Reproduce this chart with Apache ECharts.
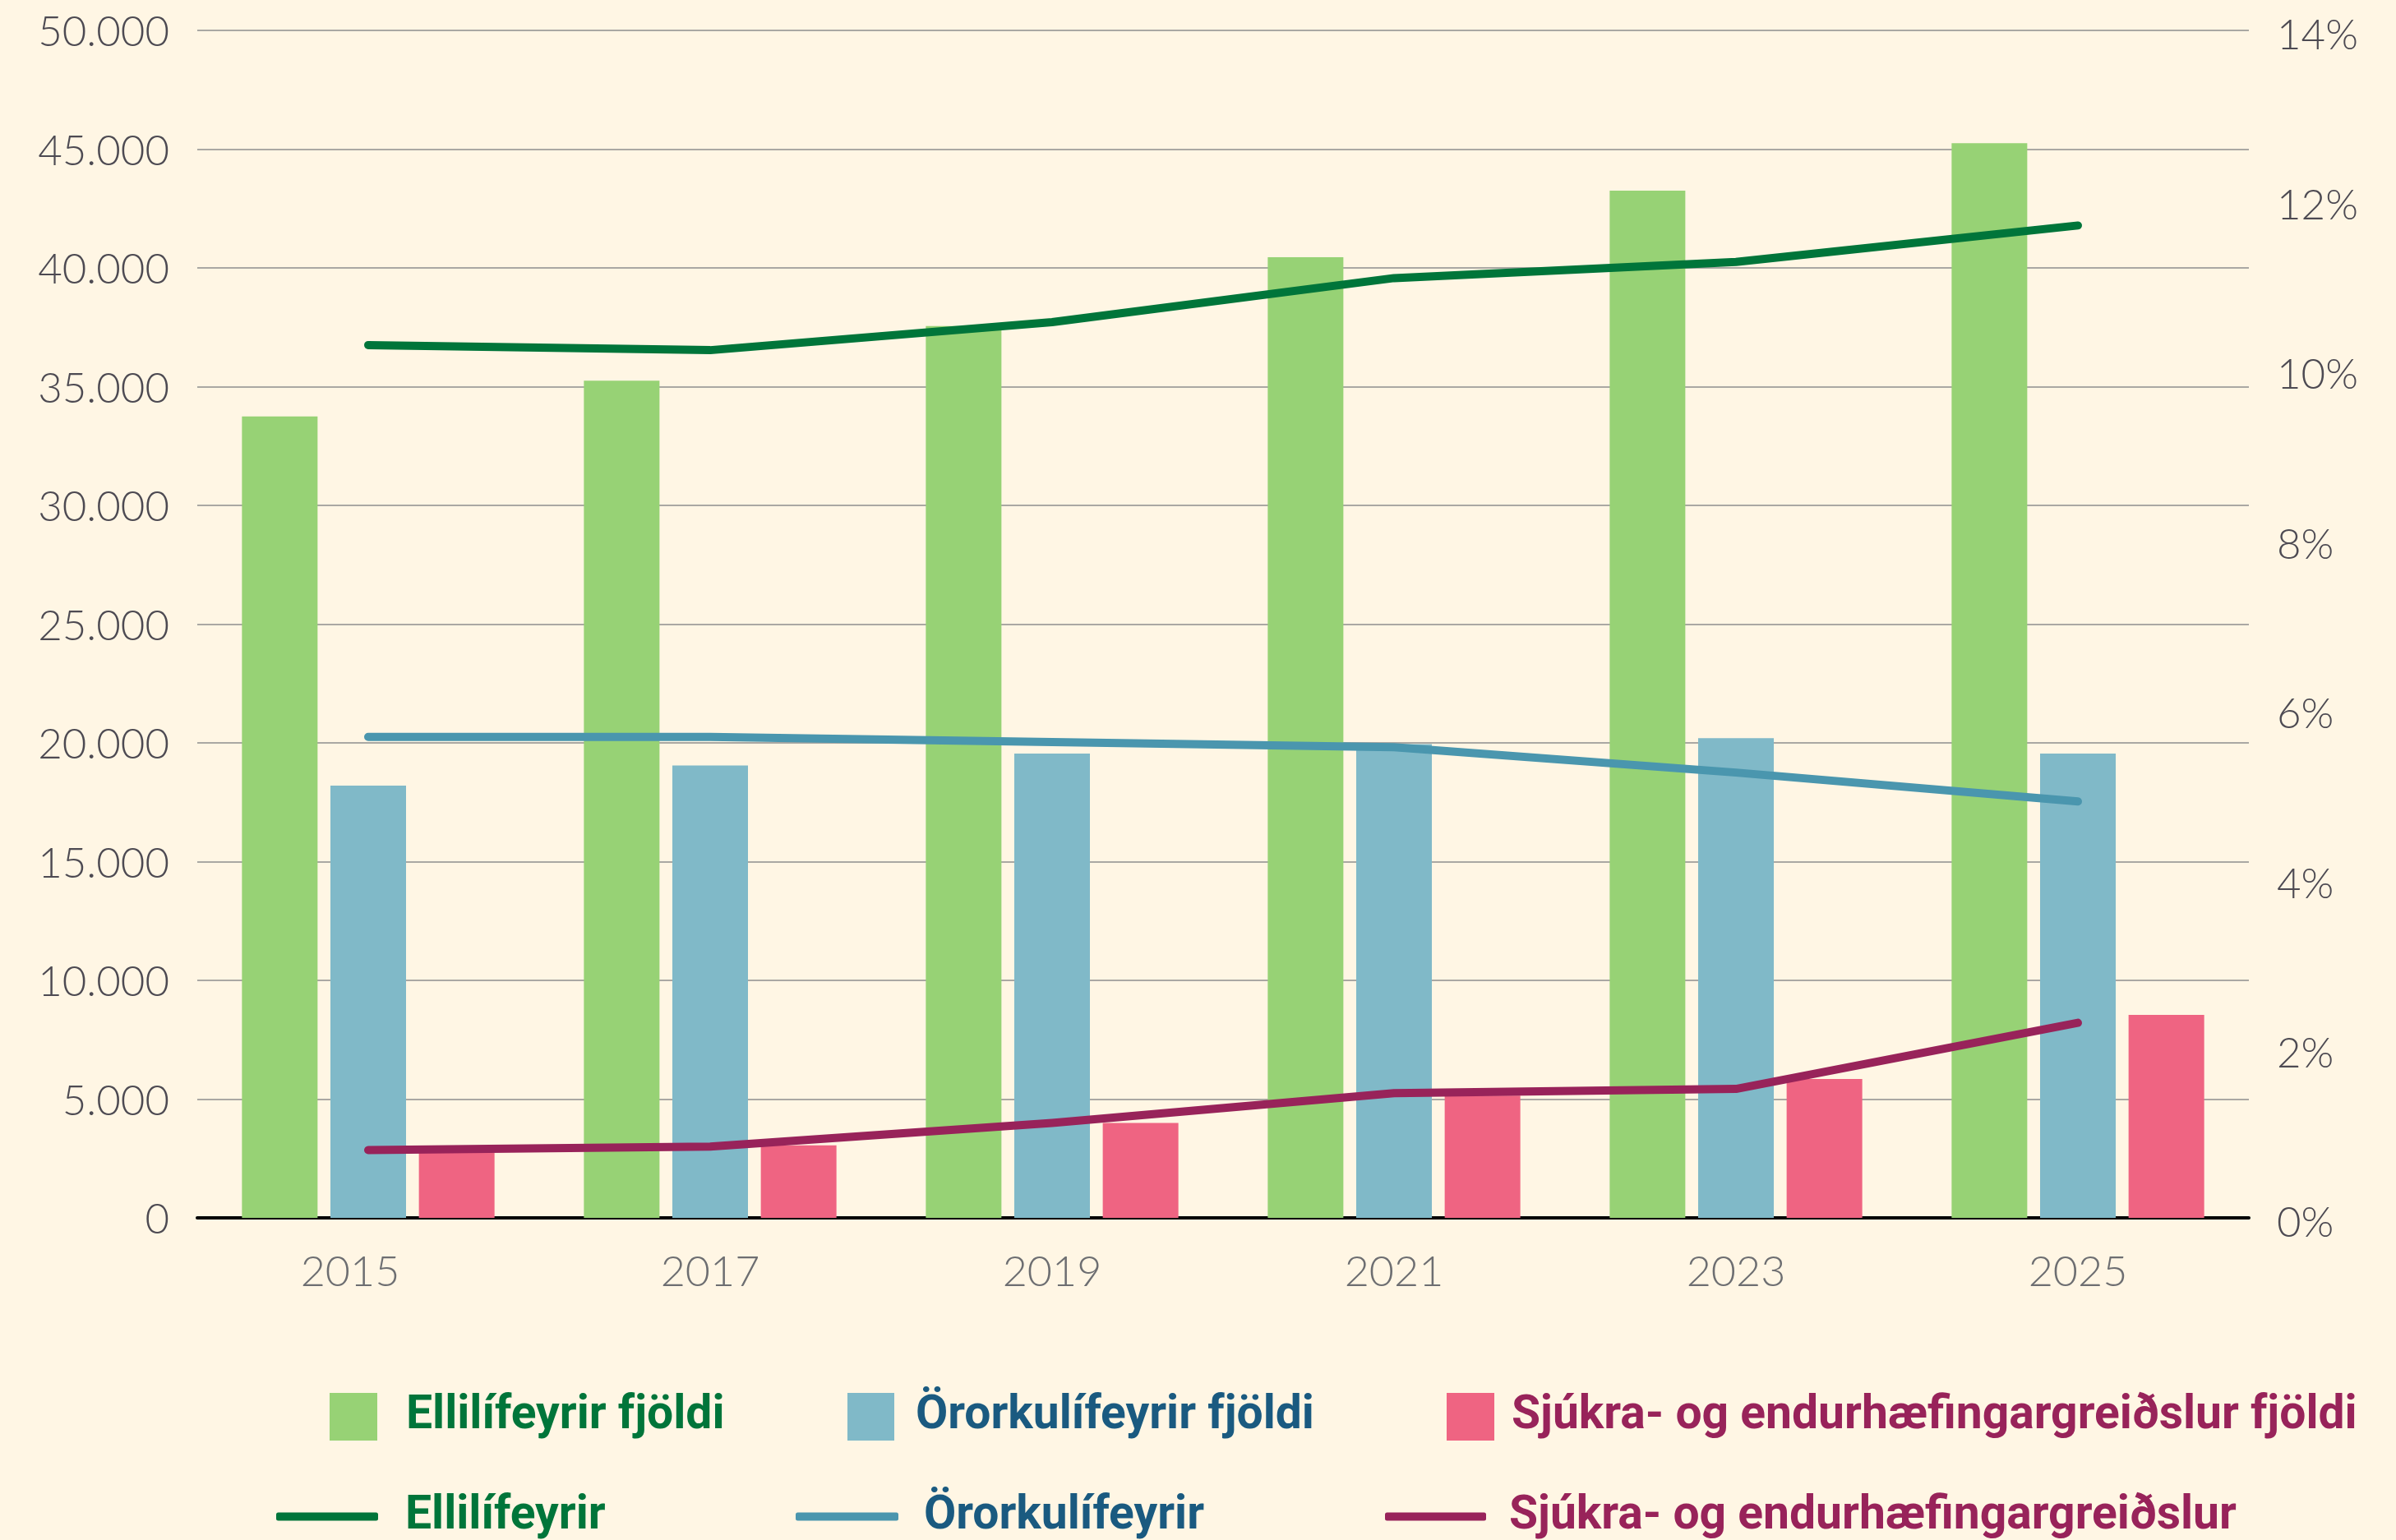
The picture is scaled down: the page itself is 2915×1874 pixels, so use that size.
<!DOCTYPE html>
<html>
<head>
<meta charset="utf-8">
<script src="https://cdn.jsdelivr.net/npm/echarts@6/dist/echarts.min.js"></script>
<style>
  html, body { margin: 0; padding: 0; background: #fff6e4; }
  #main { width: 2915px; height: 1874px; }
</style>
</head>
<body>
<div id="main"></div>
<script>
// gögn lesin af myndinni
var years = ['2015', '2017', '2019', '2021', '2023', '2025'];
var elliFjoldi = [33750, 35250, 37550, 40450, 43250, 45250];
var ororkaFjoldi = [18200, 19050, 19550, 19950, 20200, 19550];
var sjukraFjoldi = [2750, 3050, 4000, 5150, 5850, 8550];
var elliHlutfall = [10.29, 10.23, 10.56, 11.08, 11.27, 11.70];
var ororkaHlutfall = [5.67, 5.67, 5.61, 5.55, 5.25, 4.91];
var sjukraHlutfall = [0.80, 0.84, 1.12, 1.47, 1.52, 2.30];

var names = ['Ellilífeyrir fjöldi', 'Örorkulífeyrir fjöldi', 'Sjúkra- og endurhæfingargreiðslur fjöldi',
             'Ellilífeyrir', 'Örorkulífeyrir', 'Sjúkra- og endurhæfingargreiðslur'];

var myChart = echarts.init(document.getElementById('main'));

// ein skýring fyrir hvern lið, svo hægt sé að staðsetja þá eins og á myndinni
function legendItem(name, left, top, w, h, gap, color) {
    return {
        data: [name],
        left: left,
        top: top,
        icon: h > 20 ? 'rect' : 'roundRect',
        itemWidth: w,
        itemHeight: h,
        selectedMode: false,
        textStyle: {
            color: color,
            fontFamily: 'Roboto',
            fontWeight: 'bold',
            fontSize: 57,
            padding: [0, 0, 0, gap]
        }
    };
}

var labelFont = { fontFamily: 'Lato', fontWeight: 300 };

var option = {
    backgroundColor: '#fff6e4',
    animation: false,
    grid: {
        left: 240,
        right: 179,
        top: 37,
        bottom: 392
    },
    legend: [
        legendItem(names[0], 396, 1690, 58, 58, 30, '#00753a'),
        legendItem(names[1], 1026, 1690, 57, 58, 21, '#1a5a80'),
        legendItem(names[2], 1755, 1690, 58, 58, 16, '#98235a'),
        legendItem(names[3], 331, 1812, 124, 10, 28, '#00753a'),
        legendItem(names[4], 963, 1812, 125, 10, 26, '#1a5a80'),
        legendItem(names[5], 1680, 1812, 123, 10, 23, '#98235a')
    ],
    xAxis: {
        type: 'category',
        data: years,
        axisTick: { show: false },
        axisLine: { lineStyle: { color: '#000', width: 4 } },
        axisLabel: {
            color: '#6d6e71',
            fontFamily: 'Lato',
            fontWeight: 300,
            fontSize: 52,
            margin: 40,
            formatter: function (v, i) {
                // fyrsta árið stendur aðeins vinstra megin við miðjuna á myndinni
                return i === 0 ? '{f|' + v + '}' : v;
            },
            rich: {
                f: { color: '#6d6e71', fontFamily: 'Lato', fontWeight: 300, fontSize: 52, padding: [0, 44, 0, 0] }
            }
        }
    },
    yAxis: [
        {
            type: 'value',
            min: 0,
            max: 50000,
            interval: 5000,
            axisLine: { show: false },
            axisTick: { show: false },
            splitLine: { lineStyle: { color: '#8e8e8e', width: 1.5 } },
            axisLabel: {
                color: '#4d4a52',
                fontFamily: 'Lato',
                fontWeight: 300,
                fontSize: 51,
                margin: 34,
                formatter: function (v) {
                    return '{a|' + String(v).replace(/\B(?=(\d{3})+(?!\d))/g, '.') + '}';
                },
                rich: {
                    a: { color: '#4d4a52', fontFamily: 'Lato', fontWeight: 300, fontSize: 51, padding: [6, 0, 0, 0] }
                }
            }
        },
        {
            type: 'value',
            min: 0,
            max: 14,
            interval: 2,
            position: 'right',
            axisLine: { show: false },
            axisTick: { show: false },
            splitLine: { show: false },
            axisLabel: {
                color: '#4d4a52',
                fontFamily: 'Lato',
                fontWeight: 300,
                fontSize: 51,
                margin: 34,
                formatter: '{p|{value}%}',
                rich: {
                    p: { color: '#4d4a52', fontFamily: 'Lato', fontWeight: 300, fontSize: 51, padding: [14, 0, 0, 0] }
                }
            }
        }
    ],
    series: [
        {
            name: names[0],
            type: 'bar',
            barWidth: 92,
            barGap: '17%',
            itemStyle: { color: '#97d275' },
            data: elliFjoldi
        },
        {
            name: names[1],
            type: 'bar',
            barWidth: 92,
            barGap: '17%',
            itemStyle: { color: '#80b9c8' },
            data: ororkaFjoldi
        },
        {
            name: names[2],
            type: 'bar',
            barWidth: 92,
            barGap: '17%',
            itemStyle: { color: '#ef6482' },
            data: sjukraFjoldi
        },
        {
            name: names[3],
            type: 'line',
            yAxisIndex: 1,
            showSymbol: false,
            z: 5,
            itemStyle: { color: '#00753a' },
            lineStyle: { color: '#00753a', width: 10, cap: 'round', join: 'round' },
            data: elliHlutfall
        },
        {
            name: names[4],
            type: 'line',
            yAxisIndex: 1,
            showSymbol: false,
            z: 5,
            itemStyle: { color: '#4a96ae' },
            lineStyle: { color: '#4a96ae', width: 10, cap: 'round', join: 'round' },
            data: ororkaHlutfall
        },
        {
            name: names[5],
            type: 'line',
            yAxisIndex: 1,
            showSymbol: false,
            z: 5,
            itemStyle: { color: '#98235a' },
            lineStyle: { color: '#98235a', width: 10, cap: 'round', join: 'round' },
            data: sjukraHlutfall
        }
    ]
};

myChart.setOption(option);
</script>
</body>
</html>
